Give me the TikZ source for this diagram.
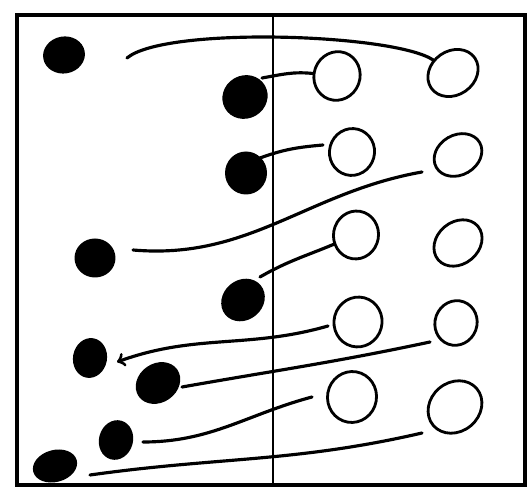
\documentclass[tikz,border=0pt]{standalone}
\usetikzlibrary{shapes.geometric}
\begin{document}
\begin{tikzpicture}[x=0.02cm,y=0.02cm,
  dot/.style={ellipse,fill=black,inner sep=0pt},
  ring/.style={ellipse,draw,line width=1.6pt,inner sep=0pt},
  link/.style={line width=1.8pt,line cap=round}]
\useasboundingbox (0,0) rectangle (530,496);
\draw[line width=1.8pt] (17,11) rectangle (525,481);
\draw[line width=1.4pt] (273,11) -- (273,481);

% filled ones, left side
\node[dot,minimum width=.84cm,minimum height=.74cm,rotate=10] (d1) at (64,441) {};
\node[dot,minimum width=.92cm,minimum height=.86cm,rotate=30] (d2) at (245,399) {};
\node[dot,minimum width=.84cm,minimum height=.86cm] (d3) at (246,323) {};
\node[dot,minimum width=.82cm,minimum height=.78cm] (d4) at (95,238) {};
\node[dot,minimum width=.92cm,minimum height=.8cm,rotate=40] (d5) at (243,196) {};
\node[dot,minimum width=.68cm,minimum height=.8cm,rotate=-10] (d6) at (90,138) {};
\node[dot,minimum width=.94cm,minimum height=.78cm,rotate=35] (d7) at (158,113) {};
\node[dot,minimum width=.68cm,minimum height=.8cm,rotate=-15] (d8) at (116,56) {};
\node[dot,minimum width=.9cm,minimum height=.64cm,rotate=15] (d9) at (55,30) {};

% open ones, right side
\node[ring,minimum width=.92cm,minimum height=.98cm,rotate=-20] (o1) at (337,420) {};
\node[ring,minimum width=1.06cm,minimum height=.88cm,rotate=35] (o2) at (453,423) {};
\node[ring,minimum width=.9cm,minimum height=.94cm,rotate=-15] (o3) at (352,344) {};
\node[ring,minimum width=1cm,minimum height=.8cm,rotate=30] (o4) at (458,341) {};
\node[ring,minimum width=.9cm,minimum height=.96cm,rotate=-10] (o5) at (356,261) {};
\node[ring,minimum width=1.04cm,minimum height=.84cm,rotate=40] (o6) at (458,253) {};
\node[ring,minimum width=.96cm,minimum height=1cm,rotate=-15] (o7) at (358,174) {};
\node[ring,minimum width=.84cm,minimum height=.9cm,rotate=-20] (o8) at (456,173) {};
\node[ring,minimum width=.98cm,minimum height=1.02cm,rotate=-10] (o9) at (352,99) {};
\node[ring,minimum width=1.14cm,minimum height=.98cm,rotate=40] (o10) at (455,89) {};

% connecting lines
\draw[link] ([shift={(63,-3)}]d1.center) to[out=40,in=135,looseness=.42] (o2);
\draw[link] ([shift={(17,19)}]d2.center) to[out=10,in=185] (o1);
\draw[link] ([shift={(14,15)}]d3.center) to[out=20,in=185] ([shift={(-29,7)}]o3.center);
\draw[link] ([shift={(38,8)}]d4.center) to[out=-5,in=190] ([shift={(-36,-17)}]o4.center);
\draw[link] ([shift={(17,23)}]d5.center) to[out=30,in=207] (o5);
\draw[link,<-] ([shift={(27,-4)}]d6.center) to[out=20,in=196] ([shift={(-30,-4)}]o7.center);
\draw[link] ([shift={(24,-4)}]d7.center) to[out=10,in=192] ([shift={(-26,-19)}]o8.center);
\draw[link] ([shift={(27,-2)}]d8.center) to[out=0,in=195] ([shift={(-40,0)}]o9.center);
\draw[link] ([shift={(35,-9)}]d9.center) to[out=8,in=193] ([shift={(-33,-26)}]o10.center);
\end{tikzpicture}
\end{document}
